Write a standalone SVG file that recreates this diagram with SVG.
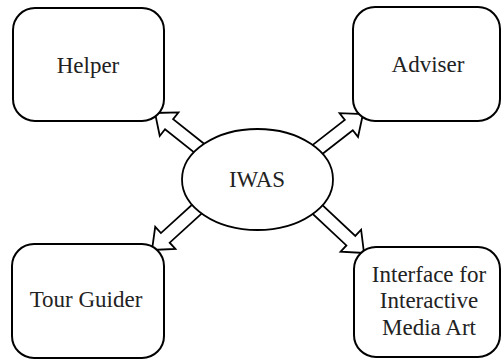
<svg xmlns="http://www.w3.org/2000/svg" width="502" height="360" viewBox="0 0 502 360">
<style>
.box{fill:#fff;stroke:#000;stroke-width:2}
.ell{fill:#fff;stroke:#000;stroke-width:1.8}
.arr{fill:#fff;stroke:#000;stroke-width:1.8;stroke-linejoin:miter}
.lbl{font-family:Liberation Serif, DejaVu Serif, serif;font-size:23px;fill:#222;text-anchor:middle}
</style>
<rect width="502" height="360" fill="#fff"/>
<g id="connectors">
<polygon class="arr" points="-70,-6.5 -18,-6.5 -18,-15 0,0 -18,15 -18,6.5 -70,6.5" transform="translate(155,113) rotate(218.5)"/>
<polygon class="arr" points="-70,-6.5 -18,-6.5 -18,-15 0,0 -18,15 -18,6.5 -70,6.5" transform="translate(363,114) rotate(-37.9)"/>
<polygon class="arr" points="-70,-6.5 -18,-6.5 -18,-15 0,0 -18,15 -18,6.5 -70,6.5" transform="translate(152,250) rotate(137.7)"/>
<polygon class="arr" points="-70,-6.5 -18,-6.5 -18,-15 0,0 -18,15 -18,6.5 -70,6.5" transform="translate(364,253) rotate(43.1)"/>
</g>
<g id="iwas">
<ellipse class="ell" cx="257.5" cy="179.5" rx="75.5" ry="50.5"/>
<text class="lbl" font-family="Liberation Serif" x="257" y="187">IWAS</text>
</g>
<g id="helper">
<rect class="box" x="13" y="8" width="151" height="113" rx="22"/>
<text class="lbl" font-family="Liberation Serif" x="88" y="73">Helper</text>
</g>
<g id="adviser">
<rect class="box" x="353" y="7" width="147" height="114" rx="22"/>
<text class="lbl" font-family="Liberation Serif" x="428" y="72">Adviser</text>
</g>
<g id="tour">
<rect class="box" x="12" y="244" width="152" height="114" rx="22"/>
<text class="lbl" font-family="Liberation Serif" x="86" y="307">Tour Guider</text>
</g>
<g id="interface">
<rect class="box" x="354" y="247" width="146" height="110" rx="22"/>
<text class="lbl" font-family="Liberation Serif" x="429" y="282">Interface for</text>
<text class="lbl" font-family="Liberation Serif" x="429" y="308">Interactive</text>
<text class="lbl" font-family="Liberation Serif" x="429" y="335">Media Art</text>
</g>
</svg>
